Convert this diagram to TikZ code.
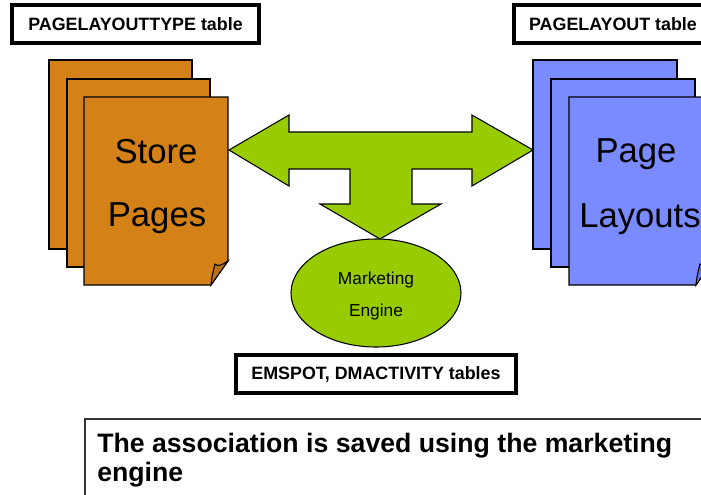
\documentclass[tikz,border=0pt]{standalone}
\usepackage{fontspec}
\setmainfont{Liberation Sans}
\definecolor{pageorange}{RGB}{212,130,24}
\definecolor{flaporange}{RGB}{186,112,18}
\definecolor{pageblue}{RGB}{122,138,255}
\definecolor{flapblue}{RGB}{100,114,222}
\definecolor{arrowgreen}{RGB}{153,204,0}
\tikzset{
  sheet/.style={draw=black, line width=0.8pt, line join=miter},
  tablebox/.style={draw=black, line width=2.3pt, fill=white, inner sep=0pt,
    minimum height=28.5pt, font=\fontsize{13.4}{16}\selectfont\bfseries},
  bigword/.style={anchor=base, inner sep=0pt, font=\fontsize{26}{30}\selectfont},
  smallword/.style={anchor=base, inner sep=0pt, font=\fontsize{13}{15}\selectfont},
  notetext/.style={anchor=base west, inner sep=0pt, font=\fontsize{20}{24}\selectfont\bfseries},
}
\begin{document}
\begin{tikzpicture}[x=0.75pt, y=-0.75pt]
\useasboundingbox (0,0) rectangle (701,494);
\clip (0,0) rectangle (701,494);

% left stack: store pages
\filldraw[sheet, fill=pageorange] (49,60) rectangle (192,249);
\filldraw[sheet, fill=pageorange] (67,79) rectangle (210,267);
\filldraw[sheet, fill=pageorange] (84,97) -- (228,97) -- (228,261) -- (211,285) -- (84,285) -- cycle;
\filldraw[sheet, fill=flaporange] (211,285) .. controls (212,276) .. (215,264)
  .. controls (218,267) and (222,265) .. (228,261) -- cycle;
\node[bigword] (store) at (156,163) {Store};
\node[bigword] (pages) at (157,226) {Pages};

% right stack: page layouts
\filldraw[sheet, fill=pageblue] (533,60) rectangle (677,249);
\filldraw[sheet, fill=pageblue] (551,79) rectangle (695,267);
\filldraw[sheet, fill=pageblue] (569,97) -- (713,97) -- (713,261) -- (696,285) -- (569,285) -- cycle;
\filldraw[sheet, fill=flapblue] (696,285) .. controls (697,276) .. (700,264)
  .. controls (703,267) and (707,265) .. (713,261) -- cycle;
\node[bigword] (page) at (636,162) {Page};
\node[bigword, anchor=base west] (layouts) at (579,227) {Layouts};

% three-way block arrow
\filldraw[sheet, fill=arrowgreen] (229,150) -- (289,115) -- (289,132) -- (472,132) -- (472,115)
  -- (533,150) -- (472,186) -- (472,169) -- (412,169) -- (412,204) -- (441,204)
  -- (380,239) -- (320,204) -- (350,204) -- (350,169) -- (289,169) -- (289,186) -- cycle;

% marketing engine
\filldraw[sheet, fill=arrowgreen] (376,293) ellipse [x radius=85, y radius=54];
\node[smallword] (marketing) at (376,284) {Marketing};
\node[smallword] (engine) at (376,316) {Engine};

% table labels
\node[tablebox, minimum width=185.25pt] (typetable) at (135.5,24) {PAGELAYOUTTYPE table};
\node[tablebox, minimum width=148.5pt] (layouttable) at (613,24) {PAGELAYOUT table};
\node[tablebox, minimum width=210pt] (emtable) at (376,374) {EMSPOT, DMACTIVITY tables};

% note
\draw[draw=black!80, line width=0.8pt] (85,530) -- (85,419) -- (740,419);
\node[notetext] (note1) at (97,452) {The association is saved using the marketing};
\node[notetext] (note2) at (97,481) {engine};
\end{tikzpicture}
\end{document}
